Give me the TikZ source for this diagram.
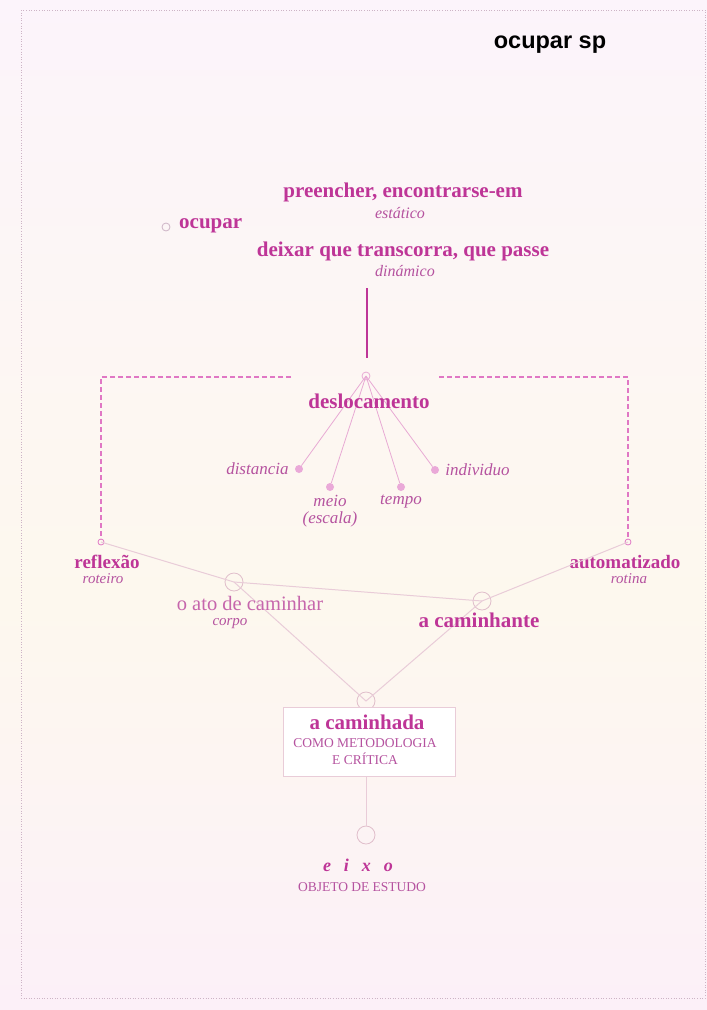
\documentclass[tikz,border=0pt]{standalone}
\usepackage{fontspec}
\setmainfont{Liberation Serif}
\setsansfont{Liberation Sans}
\usetikzlibrary{positioning}

\definecolor{ink}{HTML}{BE3597}
\definecolor{inksoft}{HTML}{B5529F}
\definecolor{inklight}{HTML}{C666AC}
\definecolor{softline}{HTML}{E8AAD4}
\definecolor{paleline}{HTML}{E9CCD8}
\definecolor{ringcol}{HTML}{E0BECB}
\definecolor{dashpink}{HTML}{E077C4}
\definecolor{dotpink}{HTML}{EAA9D8}
\definecolor{framecol}{HTML}{CDB4C6}
\definecolor{bgtop}{HTML}{FCF4FB}
\definecolor{bgmid}{HTML}{FDF8EE}
\definecolor{bgbot}{HTML}{FCF0F8}

\tikzset{
  head/.style={inner sep=0pt, text=ink, font=\bfseries\fontsize{21}{24}\selectfont},
  headsmall/.style={head, font=\bfseries\fontsize{19}{22}\selectfont},
  sub/.style={inner sep=0pt, text=inksoft, font=\itshape\fontsize{16}{18}\selectfont},
  subsmall/.style={sub, font=\itshape\fontsize{15}{17}\selectfont},
  item/.style={inner sep=0pt, text=inksoft, align=center, font=\itshape\fontsize{17}{17}\selectfont},
  caps/.style={inner sep=0pt, text=inksoft, font=\fontsize{13.5}{16}\selectfont},
  ring/.style={circle, draw=ringcol, line width=0.8pt, inner sep=0pt, minimum size=18pt},
  ringsmall/.style={ring, minimum size=8pt},
  dot/.style={circle, fill=dotpink, inner sep=0pt, minimum size=8pt},
  dashlink/.style={draw=dashpink, dashed, line width=1.2pt, dash pattern=on 5pt off 3pt},
  thinlink/.style={draw=softline, line width=0.8pt},
  palelink/.style={draw=paleline, line width=1pt},
  card/.style={draw=paleline, fill=white, line width=0.8pt, minimum width=172pt, minimum height=69pt}
}

\begin{document}
\begin{tikzpicture}[x=1pt, y=-1pt]
\useasboundingbox (0,0) rectangle (707,1010);
% page
\shade[top color=bgtop, bottom color=bgmid] (0,0) rectangle (707,600);
\shade[top color=bgmid, bottom color=bgbot] (0,600) rectangle (707,1010);
\draw[framecol, dotted, line width=0.6pt] (21,10) rectangle (705,998);

\node[inner sep=0pt, font=\sffamily\bfseries\fontsize{23.5}{26}\selectfont] (title) at (550,45) {ocupar sp};

% ocupar
\node[ringsmall, draw=framecol] (ocdot) at (166,227) {};
\node[head, anchor=west] (ocupar) at (179,226) {ocupar};
\node[head] (fill) at (403,192) {preencher, encontrarse-em};
\node[sub] (static) at (400,213) {estático};
\node[head] (pass) at (403,251) {deixar que transcorra, que passe};
\node[sub] (dyn) at (405,271) {dinámico};

\coordinate (vtop) at (367,288);
\coordinate (vbot) at (367,358);
\draw[ink, line width=1.3pt] (vtop) -- (vbot);

% deslocamento
\node[ringsmall, draw=softline] (top) at (366,376) {};
\node[dot] (d1) at (299,469) {};
\node[dot] (d2) at (330,487) {};
\node[dot] (d3) at (401,487) {};
\node[dot] (d4) at (435,470) {};
\foreach \d in {d1,d2,d3,d4}
  \draw[thinlink] (top.center) -- (\d);
\node[head] (desl) at (369,401) {deslocamento};
\node[item, left=6pt of d1] (dist) {distancia};
\node[item, below=4pt of d2] (meio) {meio\\(escala)};
\node[item, below=4pt of d3] (tempo) {tempo};
\node[item, right=6pt of d4] (indiv) {individuo};

% dashed frame
\coordinate (dl) at (291,377);
\coordinate (dr) at (439,377);
\node[ringsmall, draw=dashpink, minimum size=6pt] (rdot) at (101,542) {};
\node[ringsmall, draw=dashpink, minimum size=6pt] (adot) at (628,542) {};
\draw[dashlink] (dl) -| (rdot);
\draw[dashlink] (dr) -| (adot);

\node[headsmall] (refl) at (107,562) {reflexão};
\node[subsmall] (roteiro) at (103,579) {roteiro};
\node[headsmall] (auto) at (625,562) {automatizado};
\node[subsmall] (rotina) at (629,579) {rotina};

% caminhar
\node[ring] (ato) at (234,582) {};
\node[ring] (cam) at (482,601) {};
\node[ring] (hub) at (366,701) {};
\draw[palelink] (rdot.center) -- (ato.center) -- (cam.center) -- (adot.center);
\draw[palelink] (ato.center) -- (hub.center) -- (cam.center);

\node[inner sep=0pt, text=inklight, font=\fontsize{20.5}{24}\selectfont] (atolbl) at (250,603) {o ato de caminhar};
\node[subsmall] (corpo) at (230,624) {corpo};
\node[head] (camlbl) at (479,620) {a caminhante};

% a caminhada
\node[card] (walk) at (369,741.5) {};
\node[head] (walklbl) at (367,722) {a caminhada};
\node[caps] (method) at (365,743) {COMO METODOLOGIA};
\node[caps] (crit) at (365,759) {E CRÍTICA};

\node[ring] (axis) at (366,835) {};
\draw[palelink] (axis |- walk.south) -- (axis);
\node[inner sep=0pt, text=ink, font=\bfseries\itshape\fontsize{18}{20}\selectfont] (eixo) at (358,865) {e\hspace{13pt}i\hspace{13pt}x\hspace{13pt}o};
\node[caps] (obj) at (362,887) {OBJETO DE ESTUDO};
\end{tikzpicture}
\end{document}
